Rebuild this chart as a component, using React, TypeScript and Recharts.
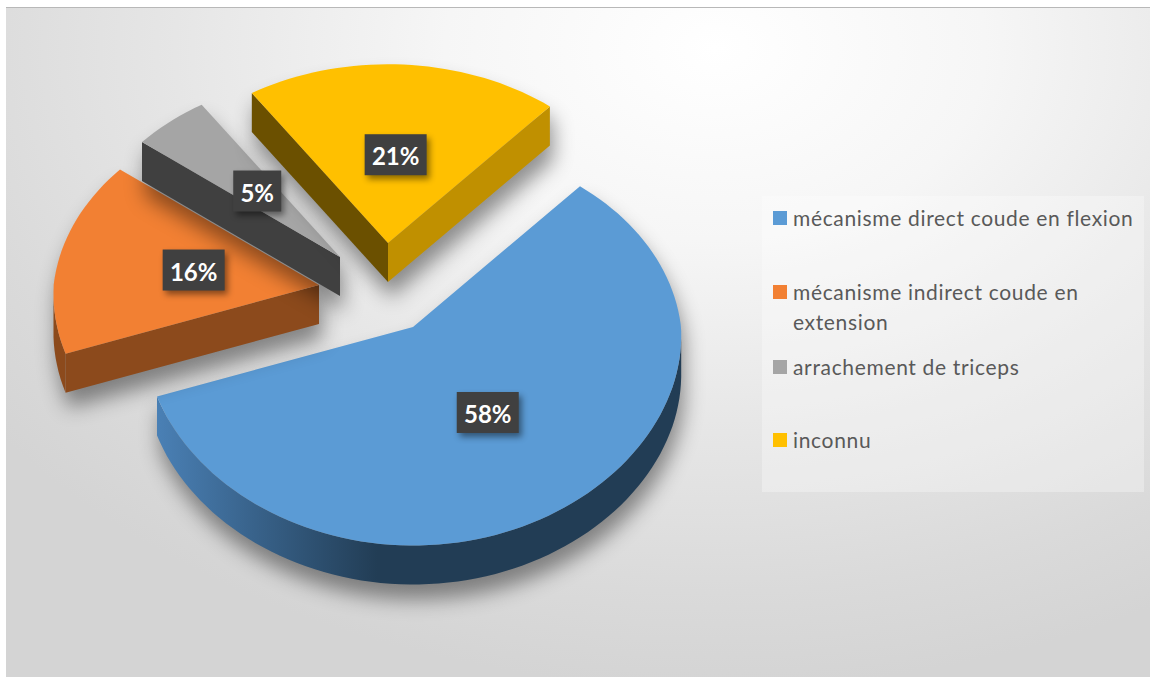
import { PieChart, Pie, Legend } from 'recharts';

const categories = [
  'mécanisme direct coude en flexion',
  'mécanisme indirect coude en extension',
  'arrachement de triceps',
  'inconnu',
];
const values = [58, 16, 5, 21];
const colors = ['#5b9bd5', '#f28033', '#a5a5a5', '#ffc000'];

// explosion of each slice from the pie centre, its far-side shrink, and colours of its side walls
const explode = [
  { x: 0, y: 0, shrink: 1 },
  { x: -94, y: -42, shrink: 0.99 },
  { x: -73, y: -70, shrink: 0.985 },
  { x: -25, y: -84, shrink: 0.97 },
];
const arcWalls = ['url(#blueWall)', '#8c4a1c', '#404040', '#c09000'];
const startWalls = [null, '#8c4a1c', '#404040', '#6b5000'];
const endWalls = [null, null, null, '#c09000'];

const data = categories.map((name, i) => ({ name, value: values[i], fill: colors[i] }));

const RY = 0.746; // ellipse squash of the tilted pie
const K = 0.085; // perspective, far side is smaller
const DEPTH = 39;

function project(cx: number, cy: number, r: number, angle: number, off: { x: number; y: number }) {
  const a = (angle * Math.PI) / 180;
  const s = Math.sin(a);
  const w = 1 + K * s;
  // near side widens less than it drops
  const wx = 1 + K * (s > 0 ? s : s / 2);
  return {
    x: cx + off.x + (r * Math.cos(a)) / wx,
    y: cy + off.y - (r * RY * s) / w,
  };
}

const toPath = (pts: { x: number; y: number }[]) =>
  pts.map((p, i) => `${i ? 'L' : 'M'}${p.x.toFixed(1)} ${p.y.toFixed(1)}`).join(' ') + ' Z';

const down = (p: { x: number; y: number }) => ({ x: p.x, y: p.y + DEPTH });

function Slice(props: any) {
  const { cx, cy, outerRadius, startAngle, endAngle, index, fill } = props;
  const off = explode[index];
  const r = outerRadius * off.shrink;
  const steps = Math.ceil(Math.abs(endAngle - startAngle) / 2);
  const angles = Array.from({ length: steps + 1 }, (_, i) => startAngle + ((endAngle - startAngle) * i) / steps);
  const rim = angles.map((a) => project(cx, cy, r, a, off));
  const apex = project(cx, cy, 0, 0, off);
  const nearRim = angles.filter((a) => Math.sin((a * Math.PI) / 180) <= 0).map((a) => project(cx, cy, r, a, off));

  return (
    <g style={{ filter: 'drop-shadow(3px 15px 10px rgba(0,0,0,0.42))' }}>
      {startWalls[index] && (
        <path d={toPath([apex, rim[0], down(rim[0]), down(apex)])} fill={startWalls[index] as string} />
      )}
      {endWalls[index] && (
        <path
          d={toPath([apex, rim[rim.length - 1], down(rim[rim.length - 1]), down(apex)])}
          fill={endWalls[index] as string}
        />
      )}
      {nearRim.length > 1 && (
        <path d={toPath([...nearRim, ...nearRim.map(down).reverse()])} fill={arcWalls[index]} />
      )}
      <path d={toPath([apex, ...rim])} fill={fill} />
    </g>
  );
}

function SliceLabel(props: any) {
  const { cx, cy, outerRadius, midAngle, index, value } = props;
  const p = project(cx, cy, outerRadius * 0.48, midAngle, explode[index]);
  const text = `${value}%`;
  const w = text.length * 14 + 20;
  const h = 41;
  return (
    <g>
      <rect
        x={p.x - w / 2}
        y={p.y - h / 2}
        width={w}
        height={h}
        fill="#404040"
        style={{ filter: 'drop-shadow(3px 4px 3px rgba(0,0,0,0.45))' }}
      />
      <text
        x={p.x}
        y={p.y + 1}
        textAnchor="middle"
        dominantBaseline="central"
        fill="#ffffff"
        fontFamily="Lato"
        fontWeight={700}
        fontSize={24}
      >
        {text}
      </text>
    </g>
  );
}

const rowCentres = [22, 96, 171, 244];

function LegendBox({ payload }: any) {
  return (
    <div style={{ position: 'relative', width: 382, height: 296, background: 'rgba(255,255,255,0.3)' }}>
      {(payload || []).map((item: any, i: number) => (
        <div key={item.value} style={{ position: 'absolute', left: 11, top: rowCentres[i] - 15, display: 'flex' }}>
          <span style={{ width: 14, height: 14, marginTop: 8, marginRight: 6, background: item.color, flex: 'none' }} />
          <span
            style={{
              width: 350,
              fontFamily: 'Lato',
              fontSize: 21,
              lineHeight: '30px',
              letterSpacing: 0.66,
              color: '#595959',
            }}
          >
            {item.value}
          </span>
        </div>
      ))}
    </div>
  );
}

export default function App() {
  return (
    <div style={{ position: 'absolute', left: 0, top: 0, width: 1155, height: 677, background: '#ffffff' }}>
      <div
        style={{
          position: 'absolute',
          left: 6,
          top: 7,
          width: 1144,
          height: 670,
          borderTop: '1px solid #b8b8b8',
          boxSizing: 'border-box',
          background:
            'radial-gradient(ellipse 900px 640px at 62% 6%, #ffffff 0%, #f6f6f6 30%, #e6e6e6 60%, #dadada 85%, #d4d4d4 100%)',
        }}
      />
      <div style={{ position: 'absolute', left: 0, top: 0 }}>
        <PieChart width={1155} height={677} margin={{ top: 0, right: 0, bottom: 0, left: 0 }}>
          <defs>
            <linearGradient id="blueWall" x1="0" y1="0" x2="1" y2="0">
              <stop offset="0" stopColor="#4a80b5" />
              <stop offset="0.42" stopColor="#223d55" />
              <stop offset="1" stopColor="#223d55" />
            </linearGradient>
          </defs>
          <Pie
            data={data}
            dataKey="value"
            nameKey="name"
            cx={413}
            cy={327}
            outerRadius={268}
            startAngle={48.5}
            endAngle={-311.5}
            shape={Slice}
            label={SliceLabel}
            labelLine={false}
            stroke="none"
            isAnimationActive={false}
          />
          <Legend
            layout="vertical"
            align="right"
            verticalAlign="top"
            itemSorter={null}
            content={LegendBox}
            wrapperStyle={{ position: 'absolute', left: 762, top: 196, width: 382, height: 296 }}
          />
        </PieChart>
      </div>
    </div>
  );
}
